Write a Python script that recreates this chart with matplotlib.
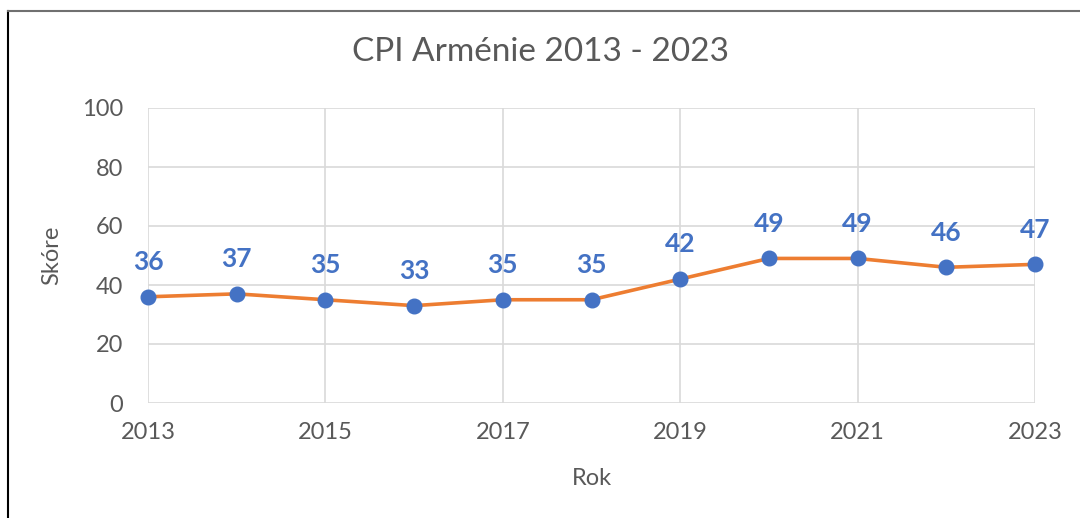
import matplotlib
matplotlib.use("Agg")
import matplotlib.pyplot as plt
from matplotlib.lines import Line2D

years = [2013, 2014, 2015, 2016, 2017, 2018, 2019, 2020, 2021, 2022, 2023]
scores = [36, 37, 35, 33, 35, 35, 42, 49, 49, 46, 47]
xticks = [2013, 2015, 2017, 2019, 2021, 2023]
yticks = [0, 20, 40, 60, 80, 100]

plt.rcParams['font.family'] = ['Lato', 'DejaVu Sans']
grey = '#595959'
grid = '#d9d9d9'

fig = plt.figure(figsize=(10.8, 5.18), dpi=100)
ax = fig.add_axes([148/1080, 1-403/518, (1035-148)/1080, (403-108)/518])

ax.plot(years, scores, color='#ED7D31', lw=2.6, zorder=3, solid_capstyle='round', clip_on=False)
ax.plot(years, scores, 'o', color='#4472C4', ms=10.5, zorder=4, clip_on=False)
for x, y in zip(years, scores):
    ax.annotate(str(y), (x, y), xytext=(0, 25), textcoords='offset points',
                ha='center', va='center', color='#4472C4', fontsize=19, fontweight='bold')

ax.set_xlim(2013, 2023)
ax.set_ylim(0, 100)
ax.set_xticks(xticks)
ax.set_yticks(yticks)
ax.grid(True, color=grid, lw=1.2)
ax.set_axisbelow(True)
for s in ax.spines.values():
    s.set_visible(False)
ax.tick_params(length=0, colors=grey, labelsize=17)
ax.tick_params(axis='x', pad=14)
ax.tick_params(axis='y', pad=18)
ax.set_xlabel('Rok', color=grey, fontsize=17, labelpad=18)
ax.set_ylabel('Skóre', color=grey, fontsize=17, labelpad=14)
fig.text(0.5, 1-52/518, 'CPI Arménie 2013 - 2023', ha='center', va='center', color=grey, fontsize=24)

fig.add_artist(Line2D([8/1080, 8/1080], [0, 1-11/518], color='black', lw=1.5, transform=fig.transFigure))
fig.add_artist(Line2D([8/1080, 1], [1-11/518, 1-11/518], color='#707070', lw=1.5, transform=fig.transFigure))

fig.savefig('out.png', dpi=100)
